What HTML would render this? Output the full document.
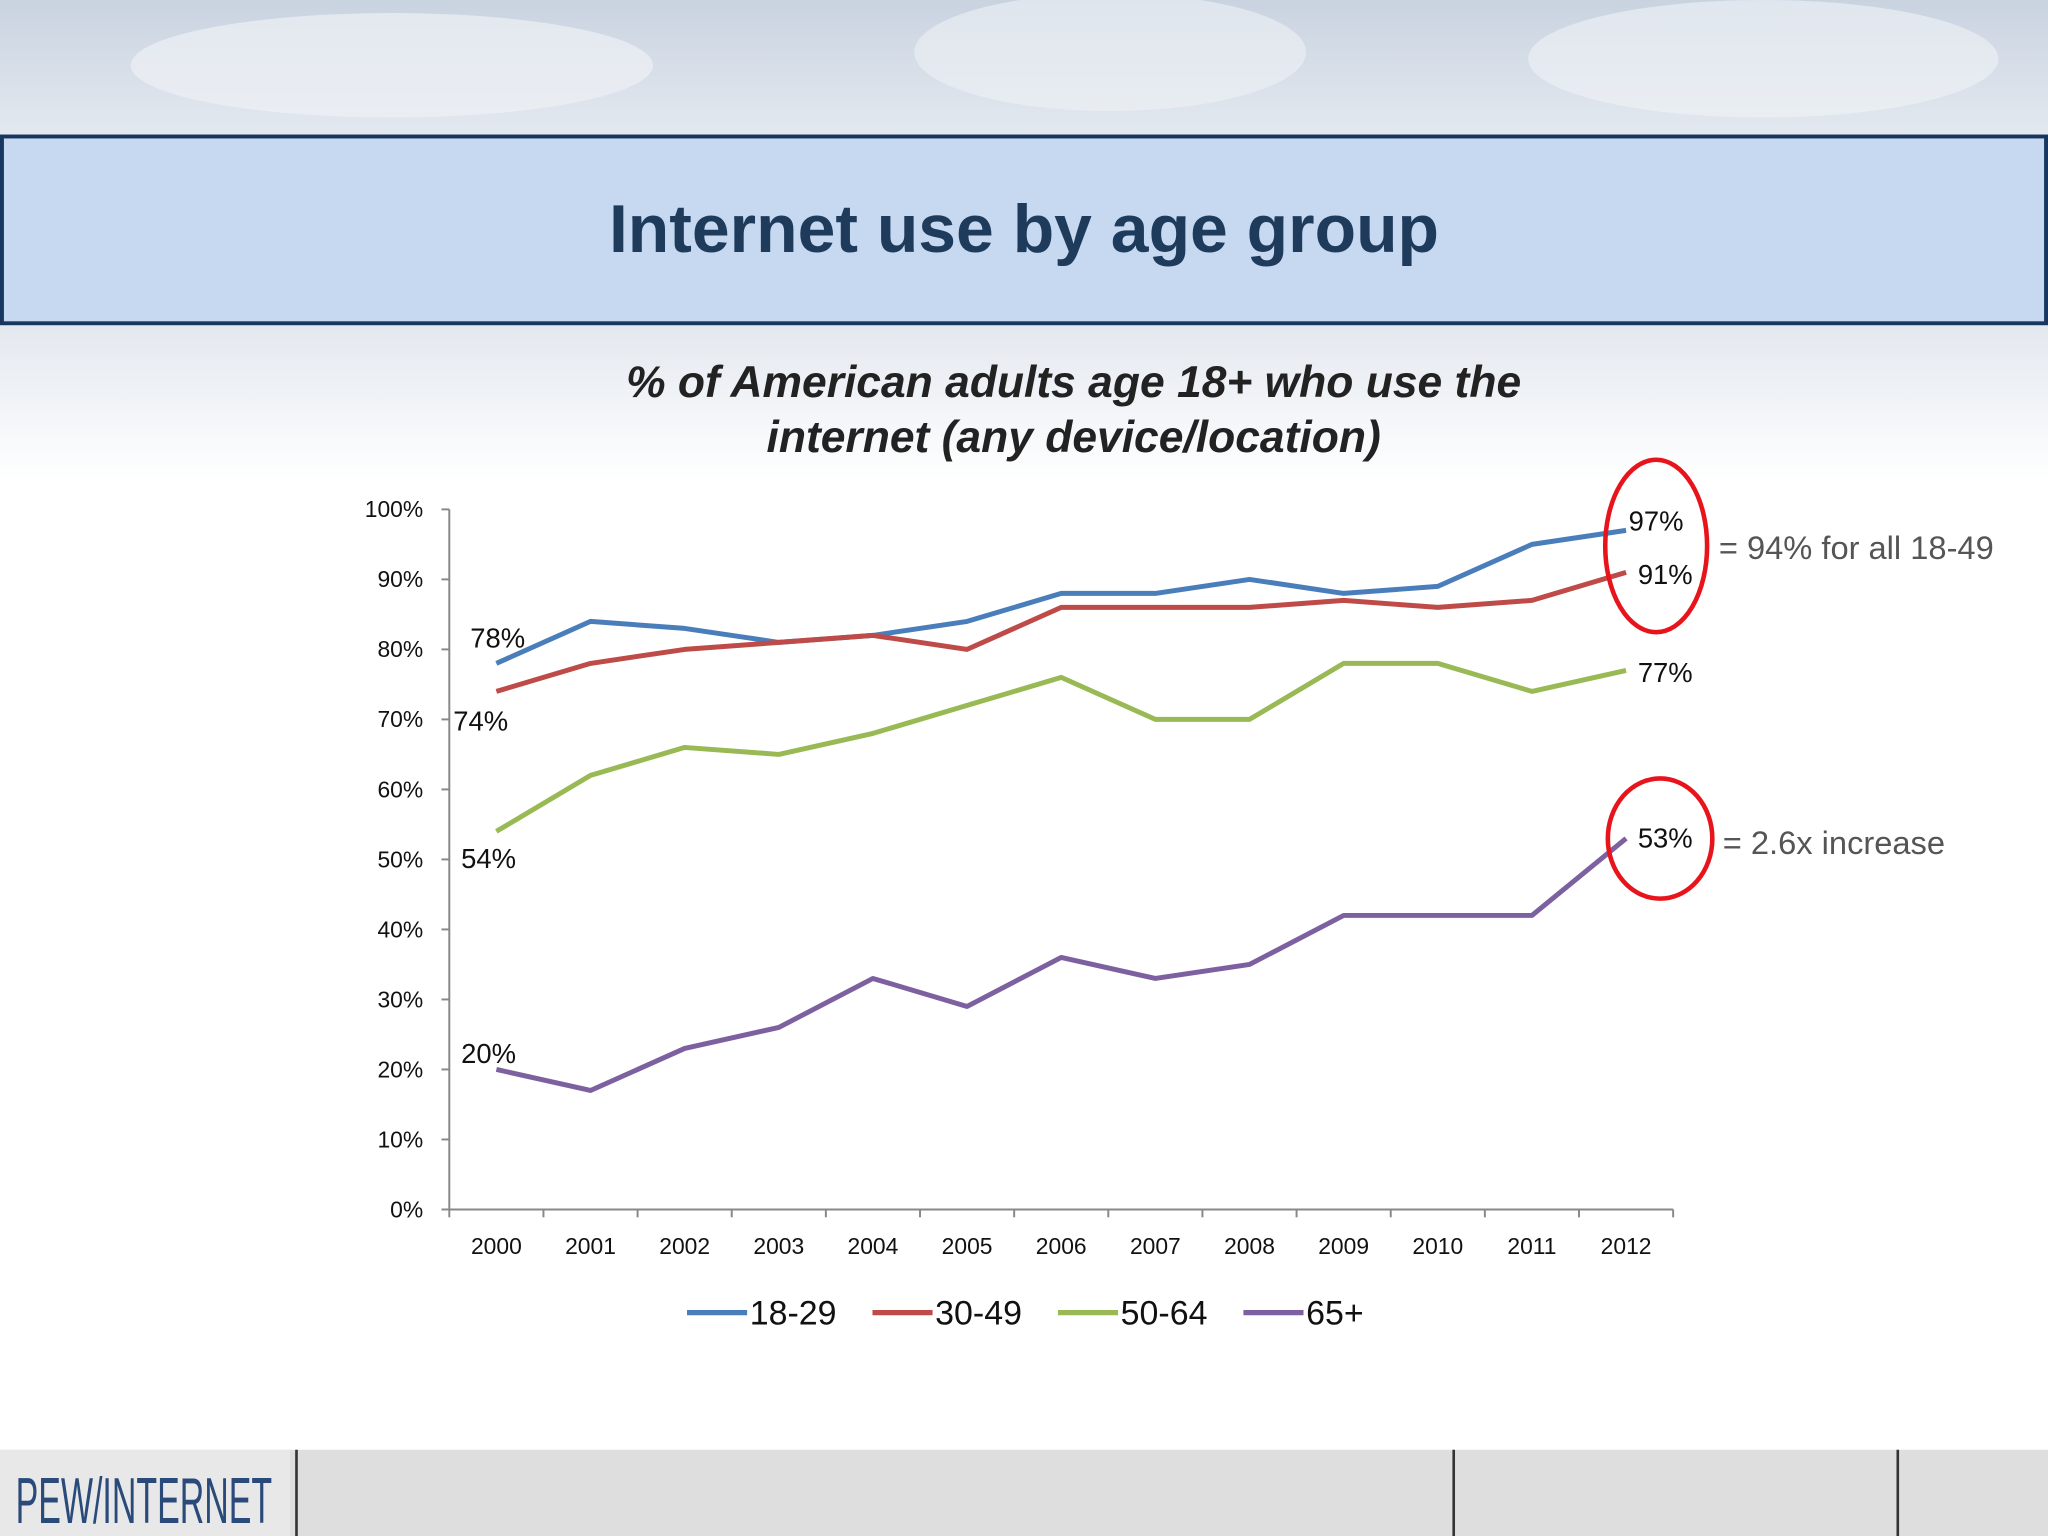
<!DOCTYPE html>
<html><head><meta charset="utf-8"><style>
html,body{margin:0;padding:0;background:#fff}
svg{display:block}
text{font-family:"Liberation Sans",sans-serif}
</style></head><body>
<svg id="chart" width="2048" height="1536" viewBox="0 0 1568 1176" xmlns="http://www.w3.org/2000/svg">
<defs>
<linearGradient id="top" x1="0" y1="0" x2="0" y2="1"><stop offset="0" stop-color="#c9d3e0"/><stop offset="1" stop-color="#e4e9f0"/></linearGradient>
<linearGradient id="fade" x1="0" y1="0" x2="0" y2="1"><stop offset="0" stop-color="#e3e8ef"/><stop offset="1" stop-color="#ffffff"/></linearGradient>
</defs>
<rect width="1568" height="1176" fill="#fff"/>
<rect x="0" y="0" width="1568" height="104" fill="url(#top)"/>
<ellipse cx="300" cy="50" rx="200" ry="40" fill="#eef1f5" opacity="0.7"/>
<ellipse cx="850" cy="40" rx="150" ry="45" fill="#eef1f5" opacity="0.6"/>
<ellipse cx="1350" cy="45" rx="180" ry="45" fill="#f0f3f7" opacity="0.6"/>
<rect x="0" y="248" width="1568" height="120" fill="url(#fade)"/>
<rect x="1.5" y="104.5" width="1565" height="143" fill="#c6d9f1" stroke="#17375e" stroke-width="3"/>
<text x="784" y="193" text-anchor="middle" font-size="52" font-weight="bold" fill="#1f3b5c">Internet use by age group</text>
<text x="822" y="304" text-anchor="middle" font-size="34" font-weight="bold" font-style="italic" fill="#222">% of American adults age 18+ who use the</text>
<text x="822" y="346" text-anchor="middle" font-size="34" font-weight="bold" font-style="italic" fill="#222">internet (any device/location)</text>
<g id="axes"></g>
<g id="series"></g>
<g id="labels" font-size="21" fill="#111"></g>
<g font-size="26" fill="#111">
<line x1="526" y1="1005" x2="572" y2="1005" stroke="#4a7ebb" stroke-width="4"/><text x="574" y="1014">18-29</text>
<line x1="668" y1="1005" x2="714" y2="1005" stroke="#be4b48" stroke-width="4"/><text x="716" y="1014">30-49</text>
<line x1="810" y1="1005" x2="856" y2="1005" stroke="#98b954" stroke-width="4"/><text x="858" y="1014">50-64</text>
<line x1="952" y1="1005" x2="998" y2="1005" stroke="#7d60a0" stroke-width="4"/><text x="1000" y="1014">65+</text>
</g>
<ellipse cx="1268" cy="418" rx="39" ry="66" fill="none" stroke="#e8141c" stroke-width="3.5"/>
<ellipse cx="1271" cy="642" rx="40" ry="46" fill="none" stroke="#e8141c" stroke-width="3.5"/>
<text x="1316" y="428" font-size="25" fill="#555">= 94% for all 18-49</text>
<text x="1319" y="654" font-size="25" fill="#555">= 2.6x increase</text>
<rect x="0" y="1110" width="1568" height="66" fill="#dedede"/>
<rect x="0" y="1110" width="222" height="66" fill="#e8e8e8"/>
<line x1="227" y1="1110" x2="227" y2="1176" stroke="#333" stroke-width="2"/>
<line x1="1113" y1="1110" x2="1113" y2="1176" stroke="#333" stroke-width="2"/>
<line x1="1453" y1="1110" x2="1453" y2="1176" stroke="#333" stroke-width="2"/>
<text x="12" y="1166" font-size="50" fill="#2a4a7a" transform="translate(12 1166) scale(0.52 1) translate(-12 -1166)">PEW/INTERNET</text>
</svg>
<script>
const years=["2000","2001","2002","2003","2004","2005","2006","2007","2008","2009","2010","2011","2012"];
const s1829=[78,84,83,81,82,84,88,88,90,88,89,95,97];
const s3049=[74,78,80,81,82,80,86,86,86,87,86,87,91];
const s5064=[54,62,66,65,68,72,76,70,70,78,78,74,77];
const s65=[20,17,23,26,33,29,36,33,35,42,42,42,53];
const yTicks=[0,10,20,30,40,50,60,70,80,90,100];
const NS="http://www.w3.org/2000/svg";
const x0=344,x1=1281,yTop=390,yBot=926;
const step=(x1-x0)/years.length;
const X=i=>x0+step*(i+0.5);
const Y=v=>yBot-(v/100)*(yBot-yTop);
function mk(t,a,p){const e=document.createElementNS(NS,t);for(const k in a)e.setAttribute(k,a[k]);p.appendChild(e);return e;}
const ax=document.getElementById('axes');
const yl=mk('line',{x1:x0,y1:yTop,x2:x0,y2:yBot,stroke:'#888','stroke-width':1.5},ax);


const xl=mk('line',{x1:x0,y1:yBot,x2:x1,y2:yBot,stroke:'#888','stroke-width':1.5},ax);


yTicks.forEach(v=>{
 mk('line',{x1:x0-6,y1:Y(v),x2:x0,y2:Y(v),stroke:'#888','stroke-width':1.5},ax);
 const t=mk('text',{x:x0-20,y:Y(v)+6,'text-anchor':'end','font-size':17.5,fill:'#111'},ax);
 t.textContent=v+'%';
 
 
});
for(let i=0;i<=years.length;i++) mk('line',{x1:x0+step*i,y1:yBot,x2:x0+step*i,y2:yBot+6,stroke:'#888','stroke-width':1.5},ax);
years.forEach((y,i)=>{
 const t=mk('text',{x:X(i),y:yBot+34,'text-anchor':'middle','font-size':17.5,fill:'#111'},ax);
 t.textContent=y;
 
 
});
const sg=document.getElementById('series');
[[s1829,'#4a7ebb','line-18-29'],[s3049,'#be4b48','line-30-49'],[s5064,'#98b954','line-50-64'],[s65,'#7d60a0','line-65-plus']].forEach(([d,c,n])=>{
 const p=mk('polyline',{points:d.map((v,i)=>X(i)+','+Y(v)).join(' '),fill:'none',stroke:c,'stroke-width':3.8,'stroke-linejoin':'round'},sg);
 
 
});
const L=document.getElementById('labels');
const last=years.length-1;
[[s1829[0],X(0)-20,Y(s1829[0])-12],[s3049[0],X(0)-33,Y(s3049[0])+30],[s5064[0],X(0)-27,Y(s5064[0])+28],[s65[0],X(0)-27,Y(s65[0])-5],
 [s1829[last],X(last)+2,Y(s1829[last])],[s3049[last],X(last)+9,Y(s3049[last])+9],[s5064[last],X(last)+9,Y(s5064[last])+9],[s65[last],X(last)+9,Y(s65[last])+7]].forEach(([v,x,y])=>{
 const t=mk('text',{x:x,y:y},L);
 t.textContent=v+'%';
 
 
});
</script>
</body></html>
